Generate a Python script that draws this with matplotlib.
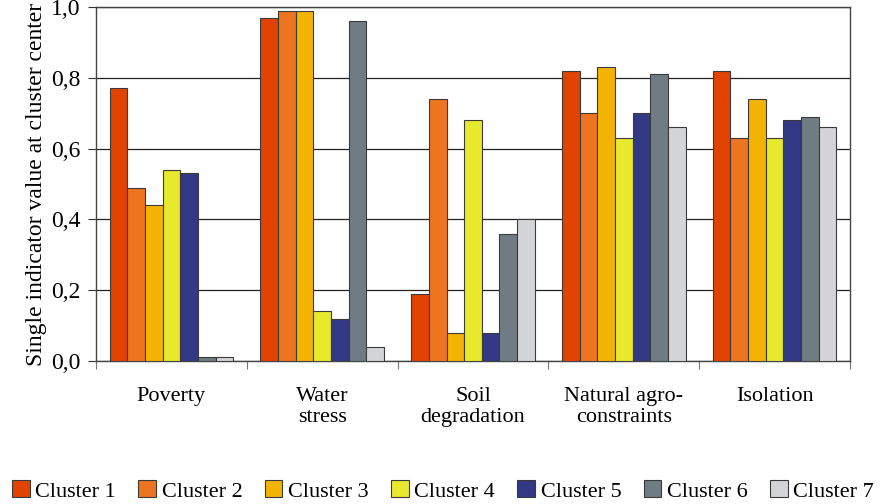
import numpy as np
import matplotlib
matplotlib.use("Agg")
import matplotlib.pyplot as plt

# ------------------ data ------------------
categories = ["Poverty", "Water\nstress", "Soil\ndegradation", "Natural agro-\nconstraints", "Isolation"]
clusters = ["Cluster 1", "Cluster 2", "Cluster 3", "Cluster 4", "Cluster 5", "Cluster 6", "Cluster 7"]
cluster_1 = [0.77, 0.97, 0.19, 0.82, 0.82]
cluster_2 = [0.49, 0.99, 0.74, 0.70, 0.63]
cluster_3 = [0.44, 0.99, 0.08, 0.83, 0.74]
cluster_4 = [0.54, 0.14, 0.68, 0.63, 0.63]
cluster_5 = [0.53, 0.12, 0.08, 0.70, 0.68]
cluster_6 = [0.01, 0.96, 0.36, 0.81, 0.69]
cluster_7 = [0.01, 0.04, 0.40, 0.66, 0.66]
yticks = [0.0, 0.2, 0.4, 0.6, 0.8, 1.0]
ytick_labels = ["0,0", "0,2", "0,4", "0,6", "0,8", "1,0"]

colors = ["#E24300", "#EE7520", "#F4B300", "#E8E82C", "#333884", "#707C84", "#D3D4D8"]

plt.rcParams['font.family'] = ['Liberation Serif', 'DejaVu Serif']

fig = plt.figure(figsize=(8.86, 5.04), dpi=100)
ax = fig.add_axes([96 / 886, 1 - 361 / 504, (850 - 96) / 886, (361 - 7) / 504])

series = [cluster_1, cluster_2, cluster_3, cluster_4, cluster_5, cluster_6, cluster_7]
x = np.arange(len(categories))
bw = 0.82 / len(series)
for i, vals in enumerate(series):
    ax.bar(x - 0.41 + bw * (i + 0.5), vals, width=bw, color=colors[i],
           edgecolor="#3a3a3a", linewidth=0.8, label=clusters[i], zorder=3)

ax.set_xlim(-0.5, len(categories) - 0.5)
ax.set_ylim(0, 1.0)
ax.set_yticks(yticks)
ax.set_yticklabels(ytick_labels, fontsize=17)
ax.yaxis.grid(True, color="#222222", linewidth=0.9, zorder=0)
ax.set_xticks(np.arange(len(categories) + 1) - 0.5)
ax.set_xticklabels([])
ax.set_xticks(x, minor=True)
ax.set_xticklabels(categories, minor=True, fontsize=16, linespacing=1.1)
ax.tick_params(axis="x", which="minor", length=0, pad=19)
ax.tick_params(axis="x", which="major", length=6, color="#777777")
ax.tick_params(axis="y", length=6, color="#333333", pad=5)
for s in ax.spines.values():
    s.set_color("#444444")
    s.set_linewidth(1.0)
ax.set_ylabel("Single indicator value at cluster center", fontsize=17, labelpad=3)

leg = fig.legend(loc="center", ncol=7, bbox_to_anchor=(0.5, 13 / 504), frameon=False,
                 fontsize=16, handlelength=0.8, handleheight=0.8, handletextpad=0.25,
                 columnspacing=1.0, borderaxespad=0)

fig.savefig("out.png", dpi=100)
